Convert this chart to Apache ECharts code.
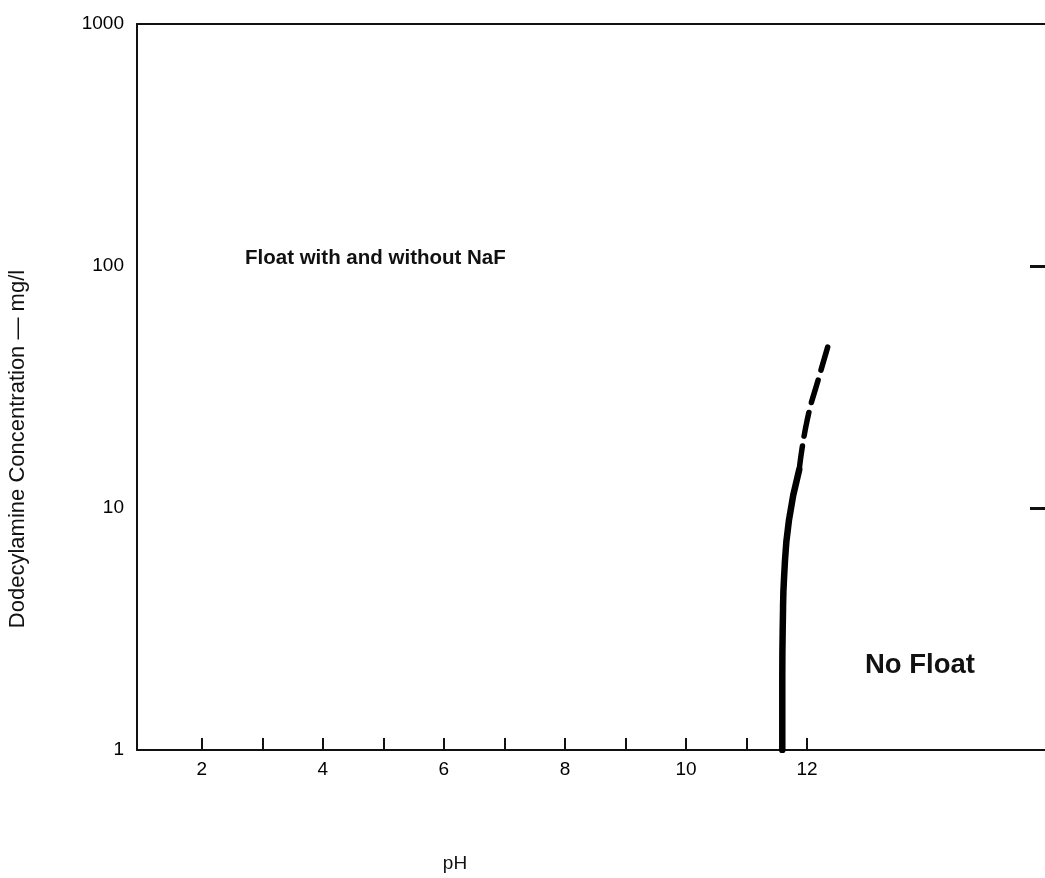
<!DOCTYPE html>
<html>
<head>
<meta charset="utf-8">
<script src="https://cdn.jsdelivr.net/npm/echarts@6/dist/echarts.min.js"></script>
<style>
  html, body { margin: 0; padding: 0; background: #fff; }
  #main { width: 1045px; height: 878px; }
</style>
</head>
<body>
<div id="main"></div>
<script>
// 边界曲线（实线部分 + 虚线部分）
const solidX = [11.59, 11.59, 11.6, 11.62, 11.7, 11.87];
const solidY = [1, 2, 3.5, 5.2, 8.9, 14.4];
const dashX = [11.87, 12.0, 12.2, 12.37];
const dashY = [14.4, 23, 35, 49];
// 刻度
const xTicks = [2, 3, 4, 5, 6, 7, 8, 9, 10, 11, 12];
const xLabels = [2, 4, 6, 8, 10, 12];
const yLabels = [1, 10, 100, 1000];
const rightTicks = [10, 100];

const font = 'Liberation Sans, Arial, sans-serif';

function pairs(xs, ys) {
  return xs.map((x, i) => [x, ys[i]]);
}

const chart = echarts.init(document.getElementById('main'));
chart.setOption({
  backgroundColor: '#fff',
  animation: false,
  grid: { left: 137, top: 24, right: 0, bottom: 128 },
  xAxis: [{
    type: 'value',
    min: 0.93,
    max: 15.93,
    axisLine: { lineStyle: { color: '#111', width: 2 } },
    axisTick: {
      inside: true, length: 12,
      customValues: xTicks,
      lineStyle: { color: '#111', width: 2 }
    },
    axisLabel: {
      customValues: xLabels,
      margin: 10,
      color: '#000', fontSize: 19, fontFamily: font
    },
    splitLine: { show: false }
  }, {
    type: 'value',
    position: 'top',
    min: 0.93,
    max: 15.93,
    axisLine: { show: true, lineStyle: { color: '#111', width: 2 } },
    axisTick: { show: false },
    axisLabel: { show: false },
    splitLine: { show: false }
  }],
  yAxis: [{
    type: 'log',
    logBase: 10,
    min: 1,
    max: 1000,
    axisLine: { show: true, lineStyle: { color: '#111', width: 2 } },
    axisTick: { show: false },
    axisLabel: {
      customValues: yLabels,
      formatter: v => String(v),
      margin: 13,
      color: '#000', fontSize: 19, fontFamily: font
    },
    splitLine: { show: false }
  }, {
    type: 'log',
    logBase: 10,
    min: 1,
    max: 1000,
    position: 'right',
    axisLine: { show: false },
    axisTick: {
      show: true, inside: true, length: 15,
      customValues: rightTicks,
      lineStyle: { color: '#111', width: 3 }
    },
    axisLabel: { show: false },
    splitLine: { show: false }
  }],
  series: [{
    type: 'line',
    data: pairs(solidX, solidY),
    smooth: true,
    showSymbol: false,
    lineStyle: { color: '#000', width: 6.5, cap: 'round' }
  }, {
    type: 'line',
    data: pairs(dashX, dashY),
    smooth: true,
    showSymbol: false,
    lineStyle: { color: '#000', width: 5.5, type: [24, 10], cap: 'round' }
  }],
  graphic: [{
    type: 'text',
    x: 245, y: 258,
    style: { text: 'Float with and without NaF', fill: '#111', font: 'bold 20.5px ' + font, verticalAlign: 'middle' }
  }, {
    type: 'text',
    x: 865, y: 665,
    style: { text: 'No Float', fill: '#111', font: 'bold 27.5px ' + font, verticalAlign: 'middle' }
  }, {
    type: 'text',
    x: 455, y: 864,
    style: { text: 'pH', fill: '#111', font: '19px ' + font, align: 'center', verticalAlign: 'middle' }
  }, {
    type: 'text',
    x: 18, y: 449,
    rotation: Math.PI / 2,
    style: {
      text: 'Dodecylamine Concentration — mg/l',
      fill: '#111', font: '22px ' + font,
      align: 'center', verticalAlign: 'middle'
    }
  }]
});
</script>
</body>
</html>
